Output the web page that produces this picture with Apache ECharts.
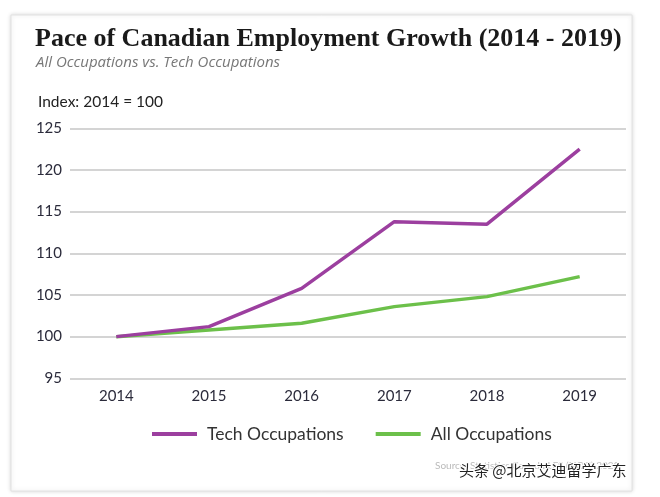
<!DOCTYPE html>
<html><head><meta charset="utf-8">
<script src="https://cdn.jsdelivr.net/npm/echarts@6/dist/echarts.min.js"></script>
<style>html,body{margin:0;padding:0;background:#fff}#c{width:660px;height:497px}</style>
</head><body><div id="c"></div>
<script>
var years = ['2014','2015','2016','2017','2018','2019'];
var techOccupations = [100, 101.2, 105.8, 113.8, 113.5, 122.5];
var allOccupations = [100, 100.8, 101.6, 103.6, 104.8, 107.2];
var yTicks = [95, 100, 105, 110, 115, 120, 125];

var chart = echarts.init(document.getElementById('c'), null, {renderer:'canvas'});
chart.setOption({
  backgroundColor: '#fff',
  animation: false,
  graphic: [
    {type:'rect', shape:{x:11,y:15,width:621,height:476}, style:{fill:'#fff', stroke:'#e2e2e2', lineWidth:1, shadowBlur:4, shadowColor:'rgba(0,0,0,0.15)'}, z:-10},
    {type:'text', left:35, top:26, style:{text:'Pace of Canadian Employment Growth (2014 - 2019)', font:'bold 26px "Liberation Serif", serif', fill:'#1a1a1a'}},
    {type:'text', left:36, top:55, style:{text:'All Occupations vs. Tech Occupations', font:'italic 15px "Open Sans", sans-serif', fill:'#777'}},
    {type:'text', left:38, top:94, style:{text:'Index: 2014 = 100', font:'15.5px Lato, sans-serif', fill:'#222'}},
    {type:'text', left:435, top:461, style:{text:'Source: Statistics Canada LFS (NOC) 2020', font:'10px Lato, sans-serif', fill:'#bbb'}},
    {type:'text', left:458, top:462, style:{text:'头条 @北京艾迪留学广东', font:'15px "Noto Sans CJK SC", sans-serif', fill:'#222', stroke:'#fff', lineWidth:2}}
  ],
  grid: {left:70, right:34, top:128.3, height:250},
  legend: {
    data:['Tech Occupations','All Occupations'],
    top: 420, left:147,
    itemWidth:45, itemHeight:4, itemGap:32,
    icon:'rect',
    textStyle:{fontSize:17.5, color:'#333', fontFamily:'Lato, sans-serif', padding:[0,0,0,5]}
  },
  xAxis: {
    type:'category', data: years, boundaryGap:true,
    axisLine:{show:false}, axisTick:{show:false},
    axisLabel:{fontSize:15, color:'#2b2b3b', margin:10, fontFamily:'Lato, sans-serif'}
  },
  yAxis: {
    type:'value', min: yTicks[0], max: yTicks[yTicks.length-1], interval:5,
    axisLine:{show:false}, axisTick:{show:false},
    axisLabel:{fontSize:15, color:'#2b2b3b', margin:8, fontFamily:'Lato, sans-serif'},
    splitLine:{lineStyle:{color:'#d4d4d4', width:2}}
  },
  series: [
    {name:'Tech Occupations', type:'line', data: techOccupations, symbol:'none', lineStyle:{color:'#9c3f9f', width:3.5}, itemStyle:{color:'#9c3f9f'}, z:3},
    {name:'All Occupations', type:'line', data: allOccupations, symbol:'none', lineStyle:{color:'#6cc04a', width:3.5}, itemStyle:{color:'#6cc04a'}, z:2}
  ]
});
</script></body></html>
